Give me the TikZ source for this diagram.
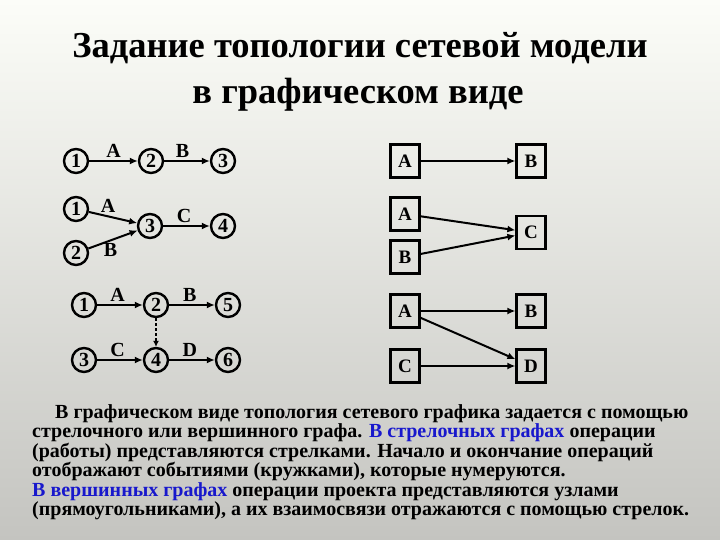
\documentclass[tikz,border=0pt]{standalone}
\usepackage{fontspec}
\setmainfont{Liberation Serif}[BoldFont={Liberation Serif Bold}]
\usetikzlibrary{arrows.meta,positioning}
\definecolor{bgtop}{HTML}{FCFDF8}
\definecolor{bgmid}{HTML}{E0E0DC}
\definecolor{bgbot}{HTML}{C4C4C0}
\definecolor{hlblue}{HTML}{1818CC}
\newcommand{\fs}[1]{\bfseries\fontsize{#1}{#1}\selectfont}

\begin{document}
\begin{tikzpicture}[x=1pt,y=-1pt,
evt/.style={circle,draw,line width=2.4pt,inner sep=0pt,minimum size=24pt,font=\fs{20}},
job/.style={draw,line width=2.2pt,minimum width=29pt,minimum height=33pt,inner sep=0pt,font=\fs{19}},
lbl/.style={font=\fs{20},inner sep=2.5pt},
arr/.style={line width=2pt,-{Latex[length=8pt,width=7pt]}},
txt/.style={anchor=base west,inner sep=0pt,font=\fs{20}}]
\useasboundingbox (0,0) rectangle (720,540);
\shade[top color=bgtop,middle color=bgmid,bottom color=bgbot] (0,0) rectangle (720,540);
\node[font=\fs{36.5},anchor=base] (title1) at (360,58) {Задание топологии сетевой модели};
\node[font=\fs{36.5},anchor=base] (title2) at (358,104) {в графическом виде};
% arrow graphs
\node[evt] (a1) at (76,161) {1};
\node[evt] (a2) at (151,161) {2};
\node[evt] (a3) at (223,161) {3};
\draw[arr] (a1) -- node[lbl,above] {A} (a2);
\draw[arr] (a2) -- node[lbl,above,pos=.4] {B} (a3);
\node[evt] (b1) at (76,209) {1};
\node[evt] (b2) at (76,253) {2};
\node[evt] (b3) at (150,226) {3};
\node[evt] (b4) at (223,226) {4};
\draw[arr] (b1) -- node[lbl,above,pos=.4] {A} (b3);
\draw[arr] (b2) -- node[lbl,below,pos=.45] {B} (b3);
\draw[arr] (b3) -- node[lbl,above,pos=.45] {C} (b4);
\node[evt] (c1) at (84,305) {1};
\node[evt] (c2) at (156,305) {2};
\node[evt] (c5) at (228,305) {5};
\node[evt] (c3) at (84,360) {3};
\node[evt] (c4) at (156,360) {4};
\node[evt] (c6) at (228,360) {6};
\draw[arr] (c1) -- node[lbl,above,pos=.45] {A} (c2);
\draw[arr] (c2) -- node[lbl,above,pos=.45] {B} (c5);
\draw[arr] (c3) -- node[lbl,above,pos=.45] {C} (c4);
\draw[arr] (c4) -- node[lbl,above,pos=.45] {D} (c6);
\draw[line width=1.8pt,dash pattern=on 3pt off 2pt,-{Latex[length=6pt,width=6pt]}] (c2) -- (c4);
% node graphs
\node[job] (vA) at (405,161) {A};
\node[job] (vB) at (531,161) {B};
\draw[arr] (vA) -- (vB);
\node[job] (wA) at (405,214) {A};
\node[job] (wB) at (405,257) {B};
\node[job] (wC) at (531,232.5) {C};
\draw[arr] (wA) -- (wC);
\draw[arr] (wB) -- (wC);
\node[job] (xA) at (405,311) {A};
\node[job] (xB) at (531,311) {B};
\node[job] (xC) at (405,366) {C};
\node[job] (xD) at (531,366) {D};
\draw[arr] (xA) -- (xB);
\draw[arr] (xA) -- (xD);
\draw[arr] (xC) -- (xD);
% text
\node[txt] (t1) at (55,418) {В графическом виде топология сетевого графика задается с помощью};
\node[txt] (t2) at (32,437.5) {стрелочного или вершинного графа. {\color{hlblue}В стрелочных графах} операции};
\node[txt] (t3) at (32,457) {(работы) представляются стрелками. Начало и окончание операций};
\node[txt] (t4) at (32,476.5) {отображают событиями (кружками), которые нумеруются.};
\node[txt] (t5) at (32,496) {{\color{hlblue}В вершинных графах} операции проекта представляются узлами};
\node[txt] (t6) at (32,515.5) {(прямоугольниками), а их взаимосвязи отражаются с помощью стрелок.};
\end{tikzpicture}
\end{document}
